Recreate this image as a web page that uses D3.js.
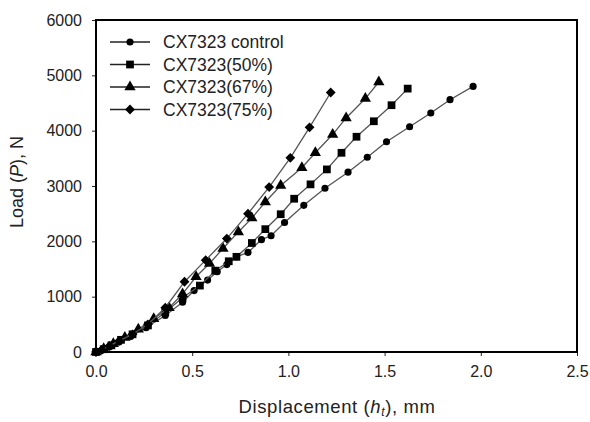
<!DOCTYPE html>
<html>
<head>
<meta charset="utf-8">
<script src="https://cdn.jsdelivr.net/npm/d3@7"></script>
<style>
html,body{margin:0;padding:0;background:#fff;}
svg{display:block;}
text{font-family:"Liberation Sans",Arial,sans-serif;}
</style>
</head>
<body>
<svg id="chart" width="590" height="422"></svg>
<script>
const seriesNames = ["CX7323 control", "CX7323(50%)", "CX7323(67%)", "CX7323(75%)"];
const dispControl = [0, 0.03, 0.07, 0.12, 0.18, 0.26, 0.36, 0.45, 0.51, 0.58, 0.63, 0.68, 0.73, 0.79, 0.86, 0.91, 0.98, 1.08, 1.19, 1.31, 1.41, 1.51, 1.63, 1.74, 1.84, 1.96];
const loadControl = [0, 30, 90, 180, 280, 440, 660, 900, 1110, 1300, 1450, 1580, 1720, 1800, 2030, 2100, 2340, 2650, 2960, 3250, 3520, 3800, 4070, 4320, 4560, 4800];
const disp50 = [0, 0.04, 0.08, 0.13, 0.19, 0.27, 0.36, 0.45, 0.54, 0.62, 0.69, 0.73, 0.81, 0.88, 0.96, 1.03, 1.115, 1.2, 1.276, 1.354, 1.444, 1.536, 1.62];
const load50 = [0, 50, 120, 220, 320, 480, 720, 980, 1200, 1470, 1640, 1720, 1970, 2220, 2490, 2770, 3030, 3300, 3600, 3890, 4170, 4460, 4760];
const disp67 = [0, 0.04, 0.09, 0.15, 0.22, 0.3, 0.38, 0.45, 0.52, 0.59, 0.66, 0.74, 0.81, 0.88, 0.96, 1.07, 1.14, 1.23, 1.3, 1.4, 1.47];
const load67 = [0, 60, 150, 260, 410, 600, 800, 1050, 1360, 1600, 1870, 2170, 2420, 2710, 3010, 3330, 3600, 3930, 4230, 4580, 4880];
const disp75 = [0, 0.03, 0.07, 0.12, 0.19, 0.27, 0.36, 0.46, 0.57, 0.68, 0.79, 0.9, 1.01, 1.11, 1.22];
const load75 = [0, 40, 110, 200, 320, 500, 800, 1270, 1660, 2050, 2500, 2980, 3510, 4060, 4690];
const xTicks = [0, 0.5, 1.0, 1.5, 2.0, 2.5];
const yTicks = [0, 1000, 2000, 3000, 4000, 5000, 6000];

const series = [
  {name: seriesNames[0], x: dispControl, y: loadControl, sym: "circle"},
  {name: seriesNames[1], x: disp50, y: load50, sym: "square"},
  {name: seriesNames[2], x: disp67, y: load67, sym: "triangle"},
  {name: seriesNames[3], x: disp75, y: load75, sym: "diamond"}
];

const svg = d3.select("#chart");
const mLeft = 96, mRight = 577, mTop = 20, mBottom = 352;
const x = d3.scaleLinear().domain([0, 2.5]).range([mLeft, mRight]);
const y = d3.scaleLinear().domain([0, 6000]).range([mBottom, mTop]);

const symGen = {
  circle: d3.symbol().type(d3.symbolCircle).size(40),
  square: d3.symbol().type(d3.symbolSquare).size(60),
  triangle: d3.symbol().type(d3.symbolTriangle).size(55),
  diamond: d3.symbol().type(d3.symbolSquare).size(48)
};
const symRot = {circle: 0, square: 0, triangle: 0, diamond: 45};

// axes
const xAxis = svg.append("g").attr("transform", `translate(0,${mBottom})`)
  .call(d3.axisBottom(x).tickValues(xTicks).tickFormat(d3.format(".1f")).tickSizeInner(4).tickSizeOuter(0).tickPadding(10));
const yAxis = svg.append("g").attr("transform", `translate(${mLeft},0)`)
  .call(d3.axisLeft(y).tickValues(yTicks).tickFormat(d => d).tickSizeInner(4).tickSizeOuter(0).tickPadding(10));
[xAxis, yAxis].forEach(g => {
  g.select(".domain").remove();
  g.selectAll(".tick line").attr("stroke", "#222").attr("stroke-width", 1);
  g.selectAll(".tick text").attr("font-size", 16).attr("fill", "#222")
    .attr("font-family", "'Liberation Sans', Arial, sans-serif");
});

// frame
svg.append("rect").attr("x", mLeft).attr("y", mTop).attr("width", mRight - mLeft).attr("height", mBottom - mTop)
  .attr("fill", "none").attr("stroke", "#000").attr("stroke-width", 2);

// series
const line = d3.line().x(d => x(d[0])).y(d => y(d[1]));
series.forEach(s => {
  const pts = s.x.map((v, i) => [v, s.y[i]]);
  svg.append("path").datum(pts).attr("d", line).attr("fill", "none")
    .attr("stroke", "#555").attr("stroke-width", 1.3);
  svg.append("g").selectAll("path").data(pts).join("path")
    .attr("d", symGen[s.sym]())
    .attr("transform", d => `translate(${x(d[0])},${y(d[1])}) rotate(${symRot[s.sym]})`)
    .attr("fill", "#000");
});

// legend
const lg = svg.append("g");
series.forEach((s, i) => {
  const ly = 42 + i * 22.5;
  lg.append("line").attr("x1", 110).attr("x2", 150).attr("y1", ly).attr("y2", ly)
    .attr("stroke", "#222").attr("stroke-width", 1.3);
  lg.append("path").attr("d", symGen[s.sym]())
    .attr("transform", `translate(130,${ly}) rotate(${symRot[s.sym]})`).attr("fill", "#000");
  lg.append("text").attr("x", 163).attr("y", ly).attr("dy", "0.36em")
    .attr("font-size", 17.5).attr("fill", "#222").text(s.name);
});

// axis titles
const xt = svg.append("text").attr("x", 337).attr("y", 413).attr("text-anchor", "middle")
  .attr("font-size", 18.5).attr("letter-spacing", 0.6).attr("fill", "#222");
xt.append("tspan").text("Displacement (");
xt.append("tspan").attr("font-style", "italic").text("h");
xt.append("tspan").attr("font-style", "italic").attr("font-size", 12).attr("dy", 3).text("t");
xt.append("tspan").attr("dy", -3).text("), mm");

const yt = svg.append("text").attr("transform", "translate(23,182) rotate(-90)").attr("text-anchor", "middle")
  .attr("font-size", 18).attr("fill", "#222");
yt.append("tspan").text("Load (");
yt.append("tspan").attr("font-style", "italic").text("P");
yt.append("tspan").text("), N");
</script>
</body>
</html>
